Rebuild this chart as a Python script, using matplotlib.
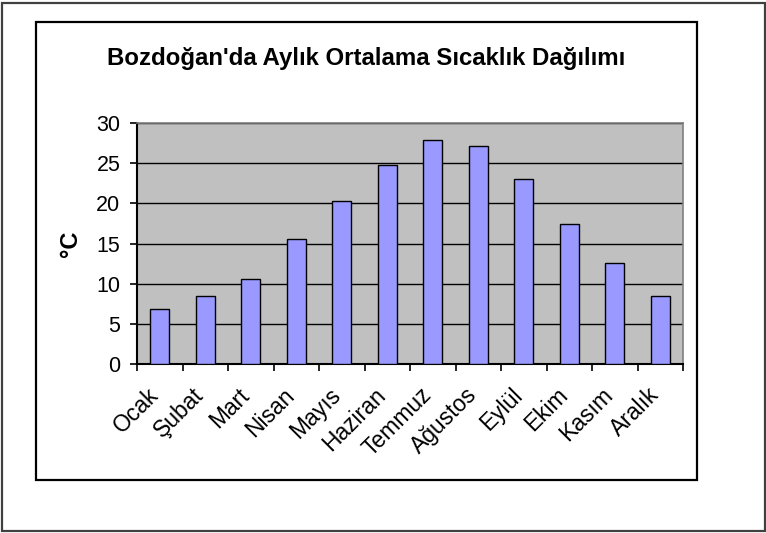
import matplotlib
matplotlib.use("Agg")
import matplotlib.pyplot as plt
from matplotlib.patches import Rectangle
from matplotlib.transforms import ScaledTranslation
import numpy as np

months = ["Ocak", "Şubat", "Mart", "Nisan", "Mayıs", "Haziran",
          "Temmuz", "Ağustos", "Eylül", "Ekim", "Kasım", "Aralık"]
temps = [6.8, 8.5, 10.6, 15.5, 20.3, 24.8, 27.9, 27.1, 23.0, 17.4, 12.6, 8.5]
yticks = [0, 5, 10, 15, 20, 25, 30]
title = "Bozdoğan'da Aylık Ortalama Sıcaklık Dağılımı"
ylabel = "°C"

plt.rcParams['font.family'] = ['Liberation Sans', 'DejaVu Sans']

W, H = 766, 533
fig = plt.figure(figsize=(W / 100, H / 100), dpi=100)

def fx(x):
    return x / W

def fy(y):
    return 1 - y / H

# outer border
fig.patches.append(Rectangle((fx(2), fy(531)), fx(765) - fx(2), fy(3) - fy(531),
                             transform=fig.transFigure, fill=False,
                             edgecolor='#404040', linewidth=1.6))
# chart area border
fig.patches.append(Rectangle((fx(36), fy(480)), fx(697) - fx(36), fy(22) - fy(480),
                             transform=fig.transFigure, fill=False,
                             edgecolor='black', linewidth=1.6))

left, right, top, bottom = 137, 683, 123, 364
ax = fig.add_axes([fx(left), fy(bottom), fx(right) - fx(left), fy(top) - fy(bottom)])
ax.set_facecolor('#C0C0C0')

x = np.arange(len(months))
ax.bar(x, temps, width=0.41, color='#9999FF', edgecolor='black', linewidth=1.0, zorder=3)

ax.set_xlim(-0.5, len(months) - 0.5)
ax.set_ylim(0, 30)
ax.set_yticks(yticks)
ax.set_yticklabels([str(v) for v in yticks], fontsize=15.5)
ax.yaxis.grid(True, color='black', linewidth=1.0, zorder=1)
ax.set_axisbelow(True)

ax.set_xticks(x)
ax.set_xticklabels(months, rotation=45, ha='right', va='top', rotation_mode='anchor', fontsize=16.5)
ax.tick_params(axis='x', length=0, pad=14)
offset = ScaledTranslation(-13 / 100, 0, fig.dpi_scale_trans)
for lab in ax.get_xticklabels():
    lab.set_transform(lab.get_transform() + offset)
ax.set_xticks(np.arange(-0.5, len(months), 1.0), minor=True)
ax.tick_params(axis='x', which='minor', length=5, width=1.2, direction='out', color='black')
ax.tick_params(axis='y', length=5, width=1.2, direction='out', pad=7)

for s in ['left', 'bottom']:
    ax.spines[s].set_color('black')
    ax.spines[s].set_linewidth(1.5)
for s in ['top', 'right']:
    ax.spines[s].set_color('#808080')
    ax.spines[s].set_linewidth(1.2)

ax.set_ylabel(ylabel, fontsize=17, fontweight='bold', labelpad=10)

fig.text(fx(366), fy(65.5), title, ha='center', va='baseline', fontsize=17.3, fontweight='bold')

fig.savefig("out.png", dpi=100)
